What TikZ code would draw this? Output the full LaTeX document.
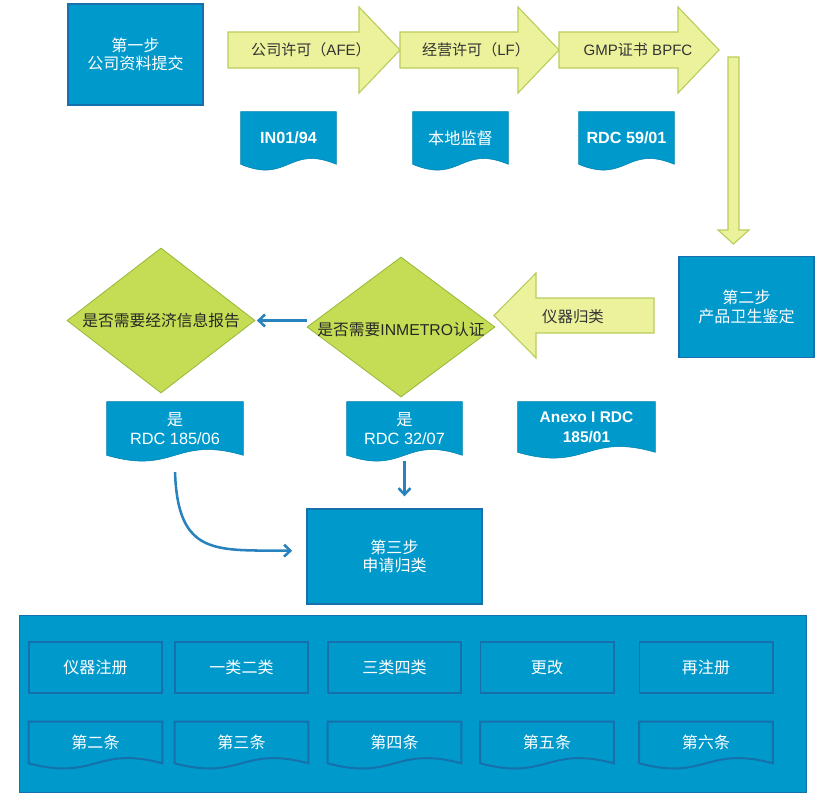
\documentclass[tikz,border=0pt]{standalone}
\usepackage{fontspec}
\setmainfont{Liberation Sans}
\newfontfamily\cjk{Noto Sans CJK SC}
\usetikzlibrary{calc,shapes.geometric,arrows.meta}
\pgfdeclarelayer{bg}
\pgfsetlayers{bg,main}

\definecolor{boxblue}{RGB}{0,153,204}
\definecolor{boxline}{RGB}{22,112,172}
\definecolor{arrowfill}{RGB}{236,242,156}
\definecolor{arrowline}{RGB}{186,204,92}
\definecolor{decfill}{RGB}{197,221,84}
\definecolor{decline}{RGB}{150,186,58}
\definecolor{linkblue}{RGB}{40,130,190}

\tikzset{
  stepbox/.style={draw=boxline, line width=1pt, fill=boxblue, text=white, align=center,
    font=\fontsize{11.4}{13}\selectfont\cjk, minimum width=3.375cm, minimum height=2.525cm},
  itembox/.style={draw=boxline, line width=1.4pt, fill=boxblue, text=white,
    font=\fontsize{11.4}{13}\selectfont\cjk, minimum width=3.325cm, minimum height=1.275cm},
  doctext/.style={text=white, align=center, inner sep=0pt, font=\fontsize{11.5}{13.5}\selectfont},
  docshape/.style={fill=boxblue, draw=boxblue!85!black, line width=0.4pt},
  itemdoc/.style={fill=boxblue, draw=boxline, line width=1.4pt},
  blockarrow/.style={fill=arrowfill, draw=arrowline, line width=0.8pt},
  arrowtext/.style={text=black!80, inner sep=0pt, font=\fontsize{10.7}{12}\selectfont},
  decision/.style={diamond, fill=decfill, draw=decline, line width=0.6pt, inner sep=0pt},
  dectext/.style={text=black!85, inner sep=0pt, font=\fontsize{11.2}{13}\selectfont},
  link/.style={draw=linkblue, line width=1.8pt, -{Straight Barb[length=4.5pt,width=8.5pt]}}
}

\begin{document}
\begin{tikzpicture}[x=0.025cm, y=-0.025cm]
  \useasboundingbox (0,0) rectangle (840,810);

  % steps
  \node[stepbox] (step1) at (135.5,54.5) {第一步\\公司资料提交};
  \node[stepbox] (step2) at (746.5,307) {第二步\\产品卫生鉴定};
  \node[stepbox, minimum width=4.375cm, minimum height=2.375cm] (step3) at (394.5,556.5) {第三步\\申请归类};

  % yellow block arrows
  \foreach \a/\b in {228/359, 400/518, 559/678}
    \draw[blockarrow] (\a,32) -- (\b,32) -- (\b,7) -- (\b+41,50) -- (\b,93) -- (\b,68) -- (\a,68) -- cycle;
  \draw[blockarrow] (728,57) -- (739,57) -- (739,230) -- (749,230) -- (733.5,244) -- (718,230) -- (728,230) -- cycle;
  \draw[blockarrow] (654,298) -- (536,298) -- (536,273) -- (494,315.5) -- (536,358) -- (536,333) -- (654,333) -- cycle;

  \node[arrowtext] (afe) at (311,50) {{\cjk 公司许可（}AFE{\cjk ）}};
  \node[arrowtext] (lf) at (476,50) {{\cjk 经营许可（}LF{\cjk ）}};
  \node[arrowtext] (gmp) at (638,50) {GMP{\cjk 证书} BPFC};
  \node[arrowtext, font=\fontsize{11}{12}\selectfont\cjk] (sort) at (573,317) {仪器归类};

  % documents
  \node[doctext, font=\fontsize{11.5}{13.5}\selectfont\bfseries, minimum width=2.375cm, minimum height=1.3cm] (in0194) at (288.5,138) {IN01/94};
  \node[doctext, font=\fontsize{11.5}{13.5}\selectfont\cjk, minimum width=2.375cm, minimum height=1.3cm] (local) at (460.5,138) {本地监督};
  \node[doctext, font=\fontsize{11.5}{13.5}\selectfont\bfseries, minimum width=2.375cm, minimum height=1.3cm] (rdc5901) at (626.5,138) {RDC 59/01};
  \node[doctext, font=\fontsize{11.6}{14}\selectfont, minimum width=3.4cm, minimum height=1.325cm] (rdc185) at (175,428.5) {{\cjk 是}\\RDC 185/06};
  \node[doctext, font=\fontsize{11.6}{14}\selectfont, minimum width=2.875cm, minimum height=1.325cm] (rdc32) at (404.5,428.5) {{\cjk 是}\\RDC 32/07};
  \node[doctext, font=\fontsize{11}{14}\selectfont\bfseries, minimum width=3.425cm, minimum height=1.25cm] (anexo) at (586.5,427) {Anexo I RDC\\185/01};

  % decisions
  \node[decision, minimum width=4.7cm, minimum height=3.625cm,
    label={[dectext]center:{\cjk 是否需要经济信息报告}}] (econ) at (161,320.5) {};
  \node[decision, minimum width=4.7cm, minimum height=3.5cm,
    label={[dectext, yshift=-2pt]center:{\cjk 是否需要}INMETRO{\cjk 认证}}] (inm) at (401,327) {};

  % classes
  \node (panel) [minimum width=19.65cm, minimum height=4.4cm] at (413,704) {};
  \node[itembox] (reg) at (95.5,667.5) {仪器注册};
  \node[itembox] (cls12) at (241.5,667.5) {一类二类};
  \node[itembox] (cls34) at (394.5,667.5) {三类四类};
  \node[itembox] (change) at (547,667.5) {更改};
  \node[itembox] (rereg) at (706,667.5) {再注册};
  \node[doctext, font=\fontsize{11.4}{13}\selectfont\cjk, minimum width=3.325cm, minimum height=1.025cm] (art2) at (95.5,742.5) {第二条};
  \node[doctext, font=\fontsize{11.4}{13}\selectfont\cjk, minimum width=3.325cm, minimum height=1.025cm] (art3) at (241.5,742.5) {第三条};
  \node[doctext, font=\fontsize{11.4}{13}\selectfont\cjk, minimum width=3.325cm, minimum height=1.025cm] (art4) at (394.5,742.5) {第四条};
  \node[doctext, font=\fontsize{11.4}{13}\selectfont\cjk, minimum width=3.325cm, minimum height=1.025cm] (art5) at (547,742.5) {第五条};
  \node[doctext, font=\fontsize{11.4}{13}\selectfont\cjk, minimum width=3.325cm, minimum height=1.025cm] (art6) at (706,742.5) {第六条};

  \begin{pgfonlayer}{bg}
    \draw[fill=boxblue, draw=boxline, line width=1pt] (panel.north west) rectangle (panel.south east);
    \foreach \n in {in0194,local,rdc5901,rdc185,rdc32,anexo}
      \draw[docshape] (\n.south west) -- (\n.north west) -- (\n.north east) -- (\n.south east)
        .. controls ($(\n.south west)!0.5!(\n.south east)+(0,-20)$) and ($(\n.south west)!0.5!(\n.south east)+(0,20)$) .. (\n.south west) -- cycle;
    \foreach \n in {art2,art3,art4,art5,art6}
      \draw[itemdoc] (\n.south west) -- (\n.north west) -- (\n.north east) -- (\n.south east)
        .. controls ($(\n.south west)!0.5!(\n.south east)+(0,-18)$) and ($(\n.south west)!0.5!(\n.south east)+(0,18)$) .. (\n.south west) -- cycle;
  \end{pgfonlayer}

  % connectors
  \draw[link, shorten >=1pt] (inm.west |- econ.east) -- (econ.east);
  \draw[link, shorten >=8.5pt] ([yshift=-4pt]rdc32.south) -- (rdc32.south |- step3.north);
  \draw[link, shorten >=10pt] ([yshift=-12pt]rdc185.south) .. controls +(3,85) and +(-90,-1) .. ([yshift=4pt]step3.west);
\end{tikzpicture}
\end{document}
